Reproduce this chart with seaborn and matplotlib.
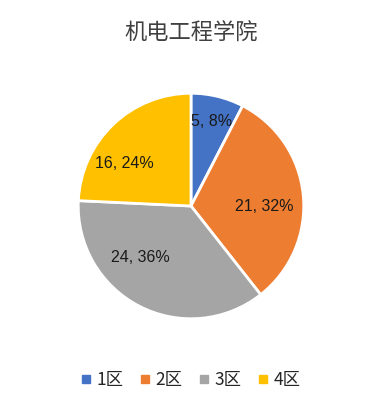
import numpy as np
import matplotlib
matplotlib.use("Agg")
import matplotlib.pyplot as plt
import seaborn as sns

title = "机电工程学院"
districts = ["1区", "2区", "3区", "4区"]
counts = [5, 21, 24, 16]
colors = ["#4472C4", "#ED7D31", "#A5A5A5", "#FFC000"]

sns.set_theme(style="white")
plt.rcParams["font.family"] = ["Liberation Sans", "Noto Sans CJK SC", "DejaVu Sans"]

fig = plt.figure(figsize=(3.82, 4.08), dpi=100)
fig.patch.set_facecolor("white")
ax = fig.add_axes([(191 - 115) / 382, (408 - 321) / 408, 230 / 382, 230 / 408])

wedges, _ = ax.pie(counts, colors=sns.color_palette(colors), startangle=90,
                   counterclock=False, radius=1,
                   wedgeprops=dict(edgecolor="white", linewidth=2))
ax.set_aspect("equal")
ax.set_xlim(-1.02, 1.02)
ax.set_ylim(-1.02, 1.02)

# excel "best fit" label placement: radius and angle nudge per slice
total = sum(counts)
label_r = [0.77, 0.65, 0.64, 0.70]
label_shift = [0, -6, -17, 14]
for w, c, r, s in zip(wedges, counts, label_r, label_shift):
    ang = np.deg2rad((w.theta1 + w.theta2) / 2 + s)
    ax.text(r * np.cos(ang), r * np.sin(ang), f"{c}, {round(100 * c / total)}%",
            ha="center", va="center", fontsize=11.5, color="#1a1a1a",
            fontstretch="condensed")

fig.text(0.5, 1 - 33 / 408, title, ha="center", va="center", fontsize=16,
         color="#404040", family=["Noto Sans CJK SC", "DejaVu Sans"])

handles = [plt.Line2D([0], [0], marker="s", linestyle="", markersize=6,
                      markerfacecolor=col, markeredgecolor=col) for col in colors]
fig.legend(handles, districts, loc="center", bbox_to_anchor=(0.5, 1 - 380 / 408),
           ncol=4, frameon=False, handletextpad=0.35,
           columnspacing=1.0, handlelength=0.5,
           prop={"family": ["Noto Sans CJK SC", "DejaVu Sans"], "size": 12.5})

fig.savefig("out.png", dpi=100)
